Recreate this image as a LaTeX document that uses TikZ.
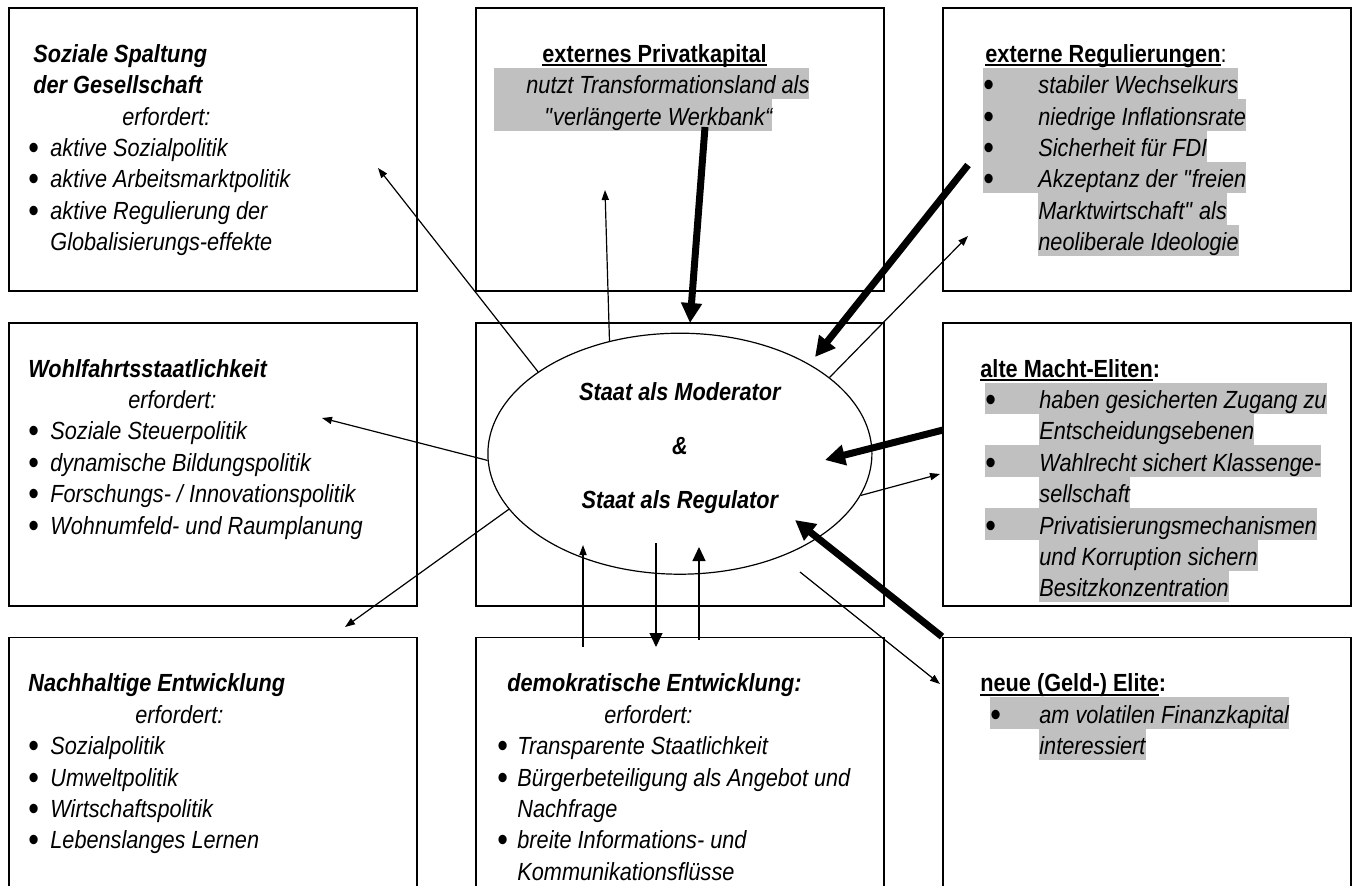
\documentclass[tikz,border=0pt]{standalone}
\usepackage{fontspec}
\setmainfont{Liberation Sans}[FakeStretch=0.875]
\usepackage{xcolor}
\usepackage{tikz}
\usetikzlibrary{arrows.meta,positioning,shapes.geometric}
\definecolor{hlgray}{HTML}{C0C0C0}
\newcommand{\zs}{\rule[-2.8pt]{0pt}{15.7pt}}
\newcommand{\hlt}[1]{{\setlength{\fboxsep}{0pt}\colorbox{hlgray}{\zs#1}}}
\newcommand{\bitem}[2][11pt]{\makebox[#1][l]{\raisebox{-1.5pt}{\scalebox{1.4}{\textup{\textbullet}}}}#2}
\newsavebox{\ulbox}
\newcommand{\ulin}[1]{\sbox{\ulbox}{#1}\rlap{\rule[-1.9pt]{\wd\ulbox}{0.9pt}}\usebox{\ulbox}}
\tikzset{
  panelbox/.style={draw,line width=0.9pt,minimum width=204pt,minimum height=141.5pt,inner sep=0pt},
  paneltext/.style={inner sep=0pt,align=left,font=\fontsize{12.4}{15.7}\selectfont\itshape},
  stateoval/.style={ellipse,draw,line width=0.6pt,minimum width=192pt,minimum height=120.5pt},
  statetext/.style={inner sep=0pt,align=center,font=\fontsize{12.4}{27}\selectfont\bfseries\itshape},
  thinarrow/.style={-{Triangle[length=5pt,width=3.6pt]},line width=0.6pt},
  bigtiparrow/.style={-{Triangle[length=7pt,width=6.5pt]},line width=0.6pt},
  thickarrow/.style={-{Triangle[length=10pt,width=10pt]},line width=3.5pt}
}
\begin{document}
\begin{tikzpicture}[x=0.5pt,y=-0.5pt,node distance=15pt and 28.6pt]
  \useasboundingbox (0,0) rectangle (1354,885);
  % the nine panels
  \node[panelbox,anchor=north west] (soz) at (8,7) {};
  \node[panelbox,right=of soz] (priv) {};
  \node[panelbox,right=of priv] (reg) {};
  \node[panelbox,below=of soz] (wohl) {};
  \node[panelbox,below=of priv] (mid) {};
  \node[panelbox,below=of reg] (alt) {};
  \node[panelbox,below=of wohl] (nach) {};
  \node[panelbox,below=of mid] (demo) {};
  \node[panelbox,below=of alt] (neu) {};
  % centre
  \node[stateoval] (state) at ([yshift=5.25pt]mid.center) {};
  \node[statetext] (stateTxt) at ([yshift=3pt]state.center)
    {Staat als Moderator\\\&\\Staat als Regulator};
  % panel texts
  \node[paneltext,below right=14.5pt and 10pt of soz.north west] (sozTxt)
    {\zs\hspace*{2.5pt}\textbf{Soziale Spaltung}\\
     \zs\hspace*{2.5pt}\textbf{der Gesellschaft}\\
     \zs\hspace*{47pt}erfordert:\\
     \zs\bitem{aktive Sozialpolitik}\\
     \zs\bitem{aktive Arbeitsmarktpolitik}\\
     \zs\bitem{aktive Regulierung der}\\
     \zs\hspace*{11pt}Globalisierungs-effekte};
  \node[paneltext,below right=14.5pt and 9.5pt of priv.north west] (privTxt)
    {\zs\hspace*{24pt}\textup{\textbf{\ulin{externes Privatkapital}}}\\
     \hlt{\hspace*{16pt}nutzt Transformationsland als}\\
     \hlt{\hspace*{25pt}\textquotedbl verlängerte Werkbank“}};
  \node[paneltext,below right=14.5pt and 20.5pt of reg.north west] (regTxt)
    {\zs\hspace*{1pt}\textup{\textbf{\ulin{externe Regulierungen}}:}\\
     \hlt{\bitem[27.5pt]{stabiler Wechselkurs}}\\
     \hlt{\bitem[27.5pt]{niedrige Inflationsrate}}\\
     \hlt{\bitem[27.5pt]{Sicherheit für FDI}}\\
     \hlt{\bitem[27.5pt]{Akzeptanz der \textquotedbl freien}}\\
     \zs\hspace*{27.5pt}\hlt{Marktwirtschaft\textquotedbl{} als}\\
     \zs\hspace*{27.5pt}\hlt{neoliberale Ideologie}};
  \node[paneltext,below right=14.5pt and 10pt of wohl.north west] (wohlTxt)
    {\zs\textbf{Wohlfahrtsstaatlichkeit}\\
     \zs\hspace*{50pt}erfordert:\\
     \zs\bitem{Soziale Steuerpolitik}\\
     \zs\bitem{dynamische Bildungspolitik}\\
     \zs\bitem{Forschungs- / Innovationspolitik}\\
     \zs\bitem{Wohnumfeld- und Raumplanung}};
  \node[paneltext,below right=14.5pt and 19pt of alt.north west] (altTxt)
    {\zs\textup{\textbf{\ulin{alte Macht-Eliten}:}}\\
     \zs\hspace*{2.5pt}\hlt{\bitem[27pt]{haben gesicherten Zugang zu}}\\
     \zs\hspace*{29.5pt}\hlt{Entscheidungsebenen}\\
     \zs\hspace*{2.5pt}\hlt{\bitem[27pt]{Wahlrecht sichert Klassenge-}}\\
     \zs\hspace*{29.5pt}\hlt{sellschaft}\\
     \zs\hspace*{2.5pt}\hlt{\bitem[27pt]{Privatisierungsmechanismen}}\\
     \zs\hspace*{29.5pt}\hlt{und Korruption sichern}\\
     \zs\hspace*{29.5pt}\hlt{Besitzkonzentration}};
  \node[paneltext,below right=14.5pt and 10pt of nach.north west] (nachTxt)
    {\zs\textbf{Nachhaltige Entwicklung}\\
     \zs\hspace*{53.5pt}erfordert:\\
     \zs\bitem{Sozialpolitik}\\
     \zs\bitem{Umweltpolitik}\\
     \zs\bitem{Wirtschaftspolitik}\\
     \zs\bitem{Lebenslanges Lernen}};
  \node[paneltext,below right=14.5pt and 11pt of demo.north west] (demoTxt)
    {\zs\hspace*{5pt}\textbf{demokratische Entwicklung:}\\
     \zs\hspace*{53.5pt}erfordert:\\
     \zs\bitem[10pt]{Transparente Staatlichkeit}\\
     \zs\bitem[10pt]{Bürgerbeteiligung als Angebot und}\\
     \zs\hspace*{10pt}Nachfrage\\
     \zs\bitem[10pt]{breite Informations- und}\\
     \zs\hspace*{10pt}Kommunikationsflüsse};
  \node[paneltext,below right=14.5pt and 19pt of neu.north west] (neuTxt)
    {\zs\textup{\textbf{\ulin{neue (Geld-) Elite}:}}\\
     \zs\hspace*{5pt}\hlt{\bitem[24.5pt]{am volatilen Finanzkapital}}\\
     \zs\hspace*{29.5pt}\hlt{interessiert}};
  % free ends of the connectors
  \coordinate (sozTip) at (378,168);
  \coordinate (privTip) at (605,190);
  \coordinate (regTip) at (968,236);
  \coordinate (wohlTip) at (322,418);
  \coordinate (nachTip) at (345,627);
  \coordinate (altTip) at (940,474);
  \coordinate (neuFrom) at (800,572);
  \coordinate (neuTip) at (940,684);
  \coordinate (privFrom) at (705,127);
  \coordinate (privHit) at (690,323);
  \coordinate (regFrom) at (968,165);
  \coordinate (regHit) at (815,357);
  \coordinate (altFrom) at (943,430);
  \coordinate (altHit) at (825,460);
  \coordinate (neuHit) at (795,520);
  \coordinate (demoUpA) at (583,545);
  \coordinate (demoDownA) at (583,647);
  \coordinate (demoUpB) at (656,543);
  \coordinate (demoDownB) at (656,647);
  \coordinate (demoUpC) at (699,547);
  \coordinate (demoDownC) at (699,640);
  % outgoing
  \draw[thinarrow] (state.150)--(sozTip);
  \draw[thinarrow] (state.122)--(privTip);
  \draw[thinarrow] (state.27)--(regTip);
  \draw[thinarrow] (state.182)--(wohlTip);
  \draw[thinarrow] (state.198)--(nachTip);
  \draw[thinarrow] (state.-13)--(altTip);
  \draw[thinarrow] (neuFrom)--(neuTip);
  \draw[thinarrow,{Triangle[length=5pt,width=3.6pt]}-] (demoUpA)--(demoDownA);
  \draw[bigtiparrow] (demoUpB)--(demoDownB);
  \draw[bigtiparrow] (demoDownC)--(demoUpC);
  % incoming
  \draw[thickarrow] (privFrom)--(privHit);
  \draw[thickarrow] (regFrom)--(regHit);
  \draw[thickarrow] (altFrom)--(altHit);
  \draw[thickarrow] (neu.north west)--(neuHit);
\end{tikzpicture}
\end{document}
